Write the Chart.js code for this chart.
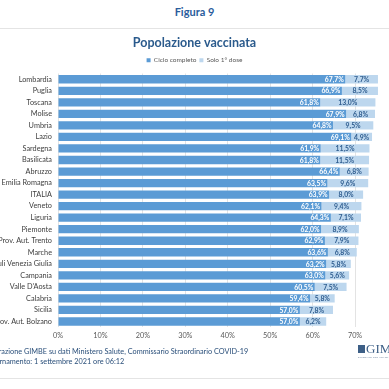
<!DOCTYPE html>
<html>
<head>
<meta charset="utf-8">
<script src="https://cdn.jsdelivr.net/npm/chart.js@4.4.1/dist/chart.umd.min.js"></script>
<style>
  html, body { margin: 0; padding: 0; width: 389px; height: 389px; overflow: hidden; background: #fff; font-family: Lato, 'Open Sans', sans-serif; }
  #wrap { position: absolute; left: 0; top: 30px; width: 389px; height: 318px; }
  #fig { position: absolute; left: 0; width: 389px; top: 5px; text-align: center; font-weight: bold; font-size: 11px; color: #2a5d9c; }
  .sep { position: absolute; left: 0; width: 389px; height: 1px; background: #e4e4e4; }
  .foot { position: absolute; left: -19px; font-size: 7.3px; color: #2a4f7a; white-space: nowrap; }
  #logo { position: absolute; left: 358px; top: 343px; white-space: nowrap; color: #3d5f86; }
  #logo .sq { display: inline-block; width: 7px; height: 8px; background: #3d5f86; vertical-align: top; margin-top: 2px; margin-right: 1px; }
  #logo .t { font-family: 'Liberation Serif', serif; font-size: 13px; line-height: 12px; vertical-align: top; }
  #logo .s { position: absolute; left: 0; top: 13px; font-size: 2.5px; letter-spacing: 0.2px; color: #6a7f99; }
</style>
</head>
<body>
<div id="fig">Figura 9</div>
<div class="sep" style="top:28px"></div>
<div id="wrap"><canvas id="c"></canvas></div>
<div class="foot" style="top:347px">Elaborazione GIMBE su dati Ministero Salute, Commissario Straordinario COVID-19</div>
<div class="foot" style="top:357px">Aggiornamento: 1 settembre 2021 ore 06:12</div>
<div id="logo"><span class="sq"></span><span class="t">GIMBE</span><div class="s">EVIDENCE FOR HEALTH</div></div>
<div class="sep" style="top:378px"></div>
<script>
const regions = ["Lombardia","Puglia","Toscana","Molise","Umbria","Lazio","Sardegna","Basilicata","Abruzzo","Emilia Romagna","ITALIA","Veneto","Liguria","Piemonte","Prov. Aut. Trento","Marche","Friuli Venezia Giulia","Campania","Valle D'Aosta","Calabria","Sicilia","Prov. Aut. Bolzano"];
const cicloCompleto = [67.7,66.9,61.8,67.9,64.8,69.1,61.9,61.8,66.4,63.5,63.9,62.1,64.3,62.0,62.9,63.6,63.2,63.0,60.5,59.4,57.0,57.0];
const soloPrimaDose = [7.7,8.5,13.0,6.8,9.5,4.9,11.5,11.5,6.8,9.6,8.0,9.4,7.1,8.9,7.9,6.8,5.8,5.6,7.5,5.8,7.8,6.2];
const seriesNames = ["Ciclo completo","Solo 1\u00b0 dose"];
const xTicks = [0,10,20,30,40,50,60,70];

const fmt = v => v.toFixed(1).replace('.', ',') + '%';
const FONT = "Lato, 'Open Sans', sans-serif";

const labelPlugin = {
  id: 'valLabels',
  afterDatasetsDraw(chart) {
    const ctx = chart.ctx;
    ctx.save();
    ctx.font = "bold 6.8px " + FONT;
    ctx.textBaseline = 'middle';
    chart.data.datasets.forEach((ds, di) => {
      const meta = chart.getDatasetMeta(di);
      meta.data.forEach((el, i) => {
        const v = ds.data[i];
        if (di === 0) {
          ctx.fillStyle = '#ffffff';
          ctx.textAlign = 'right';
          ctx.fillText(fmt(v), el.x - 1.5, el.y + 0.5);
        } else {
          ctx.fillStyle = '#2f5d8f';
          ctx.textAlign = 'center';
          ctx.fillText(fmt(v), (el.x + el.base) / 2, el.y + 0.5);
        }
      });
    });
    ctx.restore();
  }
};

new Chart(document.getElementById('c'), {
  type: 'bar',
  data: {
    labels: regions,
    datasets: [
      { label: seriesNames[0], data: cicloCompleto, backgroundColor: '#5b9bd5', barPercentage: 0.72, categoryPercentage: 1 },
      { label: seriesNames[1], data: soloPrimaDose, backgroundColor: '#bdd7ee', barPercentage: 0.72, categoryPercentage: 1 }
    ]
  },
  options: {
    indexAxis: 'y',
    responsive: true,
    maintainAspectRatio: false,
    animation: false,
    layout: { padding: { left: 0, right: 0, top: 0, bottom: 4 } },
    scales: {
      x: {
        stacked: true, min: 0, max: 78,
        afterBuildTicks(axis) { axis.ticks = xTicks.map(v => ({ value: v })); },
        ticks: { color: '#595959', font: { family: FONT, size: 7.3 }, padding: 4, callback: v => v + '%' },
        grid: { color: '#e3e3e3', lineWidth: 1, drawTicks: false },
        border: { display: false }
      },
      y: {
        stacked: true,
        afterFit(axis) { axis.width = 58; },
        ticks: { color: '#404040', font: { family: FONT, size: 7.3 }, padding: 6, autoSkip: false },
        grid: { display: false, drawTicks: false },
        border: { display: false }
      }
    },
    plugins: {
      title: { display: true, text: 'Popolazione vaccinata', color: '#2a5a8c', font: { family: FONT, size: 12.5, weight: 'bold' }, padding: { top: 5, bottom: 4 } },
      legend: {
        display: true, position: 'top',
        labels: { color: '#595959', font: { family: FONT, size: 6.5 }, boxWidth: 4, boxHeight: 4, padding: 3 }
      },
      tooltip: { enabled: false }
    }
  },
  plugins: [labelPlugin]
});
</script>
</body>
</html>
